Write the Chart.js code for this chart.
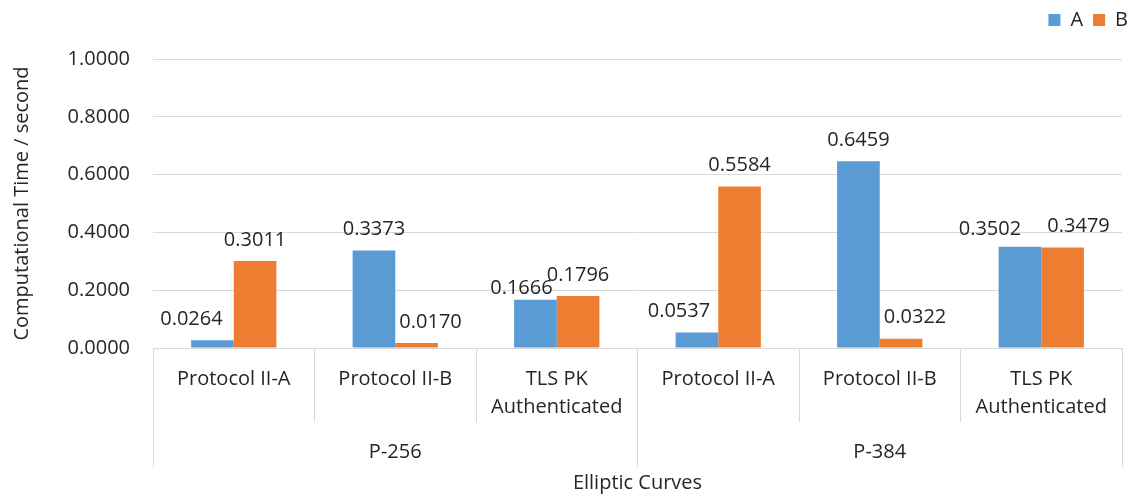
<!DOCTYPE html>
<html lang="en">
<head>
    <meta charset="UTF-8">
    <title>Computational Time</title>
    <script src="https://cdn.jsdelivr.net/npm/chart.js"></script>
    <style>
        html, body { margin: 0; padding: 0; background: #fff; }
        .chart-container { width: 1132px; height: 497px; }
    </style>
</head>
<body>
    <div class="chart-container">
        <canvas id="myChart" width="1132" height="497"></canvas>
    </div>

    <script>
        // data
        const categories = ['Protocol II-A', 'Protocol II-B', ['TLS PK', 'Authenticated'],
                            'Protocol II-A', 'Protocol II-B', ['TLS PK', 'Authenticated']];
        const curves = ['P-256', 'P-384'];
        const seriesA = [0.0264, 0.3373, 0.1666, 0.0537, 0.6459, 0.3502];
        const seriesB = [0.3011, 0.0170, 0.1796, 0.5584, 0.0322, 0.3479];

        // nudges of the value labels (Excel pushes colliding ones apart)
        const nudgeA = [-21, 0, -14, -18, 0, -30];
        const nudgeB = [0, 14, 0, 0, 14, 16];
        const dropA = [0, 0, 9, 0, 0, 4];
        const dropB = [0, 0, 0, 0, 0, 0];

        const FONT = "'Open Sans', sans-serif";
        const TEXT = '#262626';
        const GRID = '#d9d9d9';

        Chart.defaults.font.family = FONT;
        Chart.defaults.font.size = 20;
        Chart.defaults.font.lineHeight = 1.4;
        Chart.defaults.color = TEXT;

        const valueLabels = {
            id: 'valueLabels',
            afterDatasetsDraw(chart) {
                const ctx = chart.ctx;
                const nudges = [nudgeA, nudgeB];
                const drops = [dropA, dropB];
                ctx.save();
                ctx.font = '20px ' + FONT;
                ctx.fillStyle = TEXT;
                ctx.textAlign = 'center';
                ctx.textBaseline = 'middle';
                chart.data.datasets.forEach((ds, di) => {
                    chart.getDatasetMeta(di).data.forEach((bar, i) => {
                        ctx.fillText(ds.data[i].toFixed(4), bar.x + nudges[di][i], bar.y - 21 + drops[di][i]);
                    });
                });
                ctx.restore();
            }
        };

        // extra room between the legend and the plot
        const legendGap = {
            id: 'legendGap',
            beforeInit(chart) {
                const fit = chart.legend.fit;
                chart.legend.fit = function () {
                    fit.bind(chart.legend)();
                    this.height += 19;
                };
            }
        };

        const ctx = document.getElementById('myChart').getContext('2d');
        const myChart = new Chart(ctx, {
            type: 'bar',
            data: {
                labels: categories,
                datasets: [
                    { label: 'A', data: seriesA, backgroundColor: '#5b9bd5' },
                    { label: 'B', data: seriesB, backgroundColor: '#ed7d31' }
                ]
            },
            options: {
                responsive: false,
                animation: false,
                layout: { padding: { top: 0, right: -6, left: 0, bottom: 0 } },
                datasets: {
                    bar: { categoryPercentage: 0.528, barPercentage: 1.0 }
                },
                plugins: {
                    legend: {
                        position: 'top',
                        align: 'end',
                        labels: { boxWidth: 12, boxHeight: 12, padding: 10, color: TEXT }
                    },
                    tooltip: { enabled: false }
                },
                scales: {
                    x: {
                        position: 'bottom',
                        grid: { drawOnChartArea: false, offset: true, color: GRID, tickLength: 74 },
                        border: { display: true, color: GRID },
                        ticks: { padding: -57, maxRotation: 0, autoSkip: false, color: TEXT },
                        afterFit: s => { s.height = 74; }
                    },
                    x2: {
                        type: 'category',
                        position: 'bottom',
                        labels: curves,
                        offset: true,
                        grid: { drawOnChartArea: false, offset: true, color: GRID, tickLength: 45 },
                        border: { display: false },
                        ticks: { padding: -29, maxRotation: 0, color: TEXT },
                        title: { display: true, text: 'Elliptic Curves', color: TEXT, padding: 0 },
                        afterFit: s => { s.height = 75; }
                    },
                    y: {
                        min: 0,
                        max: 1,
                        ticks: { stepSize: 0.2, padding: 23, color: TEXT, callback: v => v.toFixed(4) },
                        grid: { color: GRID, drawTicks: false },
                        border: { display: false },
                        title: { display: true, text: 'Computational Time / second', color: TEXT, padding: 8 },
                        afterFit: s => { s.width = 153; }
                    },
                    yR: {
                        position: 'right',
                        display: true,
                        grid: { display: false },
                        border: { display: false },
                        ticks: { display: false },
                        afterFit: s => { s.width = 16; }
                    }
                }
            },
            plugins: [valueLabels, legendGap]
        });
    </script>
</body>
</html>
